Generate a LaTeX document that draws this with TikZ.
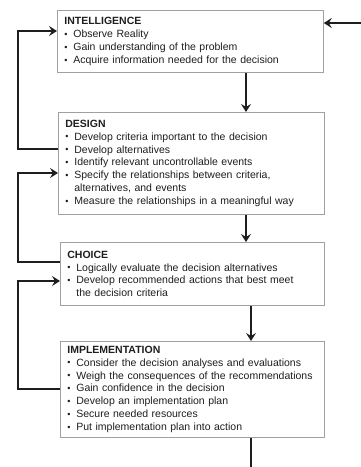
\documentclass[tikz,border=0pt]{standalone}
\usepackage{fontspec}
\setmainfont{Liberation Sans}
\usepackage{xcolor}
\usepackage{tikz}
\usetikzlibrary{arrows.meta,calc,positioning}
\definecolor{Ink}{HTML}{1E1E1E}
\definecolor{Frame}{HTML}{A0A0A0}
\newcommand{\stagefont}{\fontsize{10.5}{12.9}\selectfont\hyphenpenalty=10000\relax\exhyphenpenalty=10000\relax}
\newcommand{\bitem}[1]{\makebox[9pt][l]{\raisebox{0.2pt}{\small\textbullet}}#1}
\newcommand{\bcont}[1]{\hspace*{9pt}#1}

\begin{document}
\begin{tikzpicture}[x=1pt,y=-1pt,
  stage/.style={draw=Frame,line width=0.8pt,fill=white,anchor=north west,align=left,text width=252pt,inner xsep=7pt,inner ysep=4pt,text=Ink,font=\stagefont},
  arr/.style={-{Stealth[length=8pt,width=10pt,inset=3pt]},line width=1.9pt,color=Ink},
  link/.style={line width=1.9pt,color=Ink}
]
\useasboundingbox (0,0) rectangle (361,467);
\node[stage,minimum height=62pt] (intel) at (57,10) {\textbf{INTELLIGENCE}\\
  \bitem{Observe Reality}\\
  \bitem{Gain understanding of the problem}\\
  \bitem{Acquire information needed for the decision}};
\node[stage,minimum height=102pt] (design) at (58,112) {\textbf{DESIGN}\\
  \bitem{Develop criteria important to the decision}\\
  \bitem{Develop alternatives}\\
  \bitem{Identify relevant uncontrollable events}\\
  \bitem{Specify the relationships between criteria,}\\
  \bcont{alternatives, and events}\\
  \bitem{Measure the relationships in a meaningful way}};
\node[stage,text width=250pt,minimum height=63pt] (choice) at (60,242) {\textbf{CHOICE}\\
  \bitem{Logically evaluate the decision alternatives}\\
  \bitem{Develop recommended actions that best meet}\\
  \bcont{the decision criteria}};
\node[stage,text width=250pt,minimum height=96pt] (impl) at (60,341) {\textbf{IMPLEMENTATION}\\
  \bitem{Consider the decision analyses and evaluations}\\
  \bitem{Weigh the consequences of the recommendations}\\
  \bitem{Gain confidence in the decision}\\
  \bitem{Develop an implementation plan}\\
  \bitem{Secure needed resources}\\
  \bitem{Put implementation plan into action}};
% free ends and columns
\coordinate (feed) at (361,23);
\coordinate (out) at (251,467);
\coordinate (colA) at (246,0);
\coordinate (colB) at (251,0);
\coordinate (rail) at (18,0);
% forward flow
\draw[arr] (feed) -- (feed -| intel.east);
\draw[arr] (intel.south -| colA) -- (design.north -| colA);
\draw[arr] (design.south -| colA) -- (choice.north -| colA);
\draw[arr] (choice.south -| colB) -- (impl.north -| colB);
\draw[link] (impl.south -| colB) -- (out);
% feedback loops
\draw[arr] (design.west |- 0,149) -| (rail |- 0,149) |- (intel.west |- 0,31);
\draw[arr] (choice.west |- 0,262) -| (rail |- 0,262) |- (design.west |- 0,173);
\draw[arr] (impl.west |- 0,389) -| (rail |- 0,389) |- (choice.west |- 0,281);
\end{tikzpicture}
\end{document}
